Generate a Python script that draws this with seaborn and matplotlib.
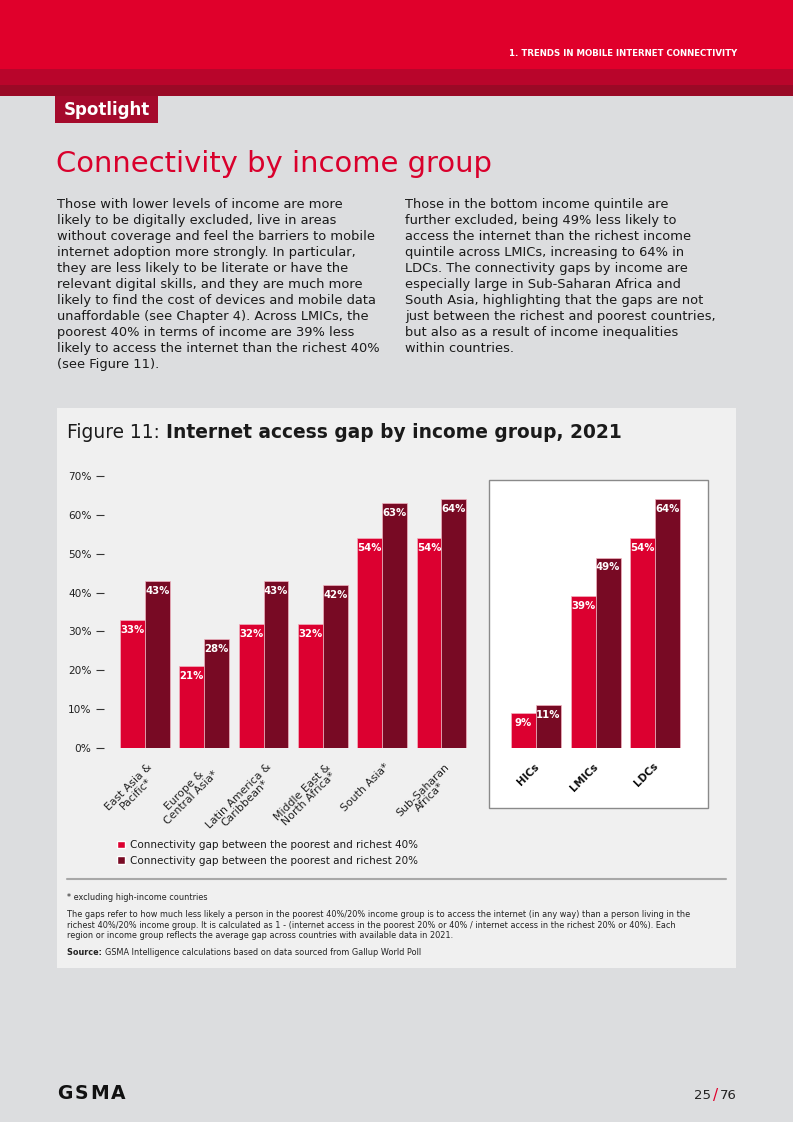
import matplotlib
matplotlib.use("Agg")
import matplotlib.pyplot as plt
import seaborn as sns
import pandas as pd
from matplotlib.patches import Rectangle
from matplotlib.lines import Line2D
from matplotlib.transforms import ScaledTranslation

# ---------------- data ----------------
regions = ["East Asia &\nPacific*", "Europe &\nCentral Asia*", "Latin America &\nCaribbean*",
           "Middle East &\nNorth Africa*", "South Asia*", "Sub-Saharan\nAfrica*"]
gap40_regions = [33, 21, 32, 32, 54, 54]
gap20_regions = [43, 28, 43, 42, 63, 64]
income_groups = ["HICs", "LMICs", "LDCs"]
gap40_groups = [9, 39, 54]
gap20_groups = [11, 49, 64]
series_names = ["Connectivity gap between the poorest and richest 40%",
                "Connectivity gap between the poorest and richest 20%"]
y_ticks = [0, 10, 20, 30, 40, 50, 60, 70]
y_tick_labels = ["0%", "10%", "20%", "30%", "40%", "50%", "60%", "70%"]

left_par = ["Those with lower levels of income are more",
            "likely to be digitally excluded, live in areas",
            "without coverage and feel the barriers to mobile",
            "internet adoption more strongly. In particular,",
            "they are less likely to be literate or have the",
            "relevant digital skills, and they are much more",
            "likely to find the cost of devices and mobile data",
            "unaffordable (see Chapter 4). Across LMICs, the",
            "poorest 40% in terms of income are 39% less",
            "likely to access the internet than the richest 40%",
            "(see Figure 11)."]
right_par = ["Those in the bottom income quintile are",
             "further excluded, being 49% less likely to",
             "access the internet than the richest income",
             "quintile across LMICs, increasing to 64% in",
             "LDCs. The connectivity gaps by income are",
             "especially large in Sub-Saharan Africa and",
             "South Asia, highlighting that the gaps are not",
             "just between the richest and poorest countries,",
             "but also as a result of income inequalities",
             "within countries."]
note_lines = ["The gaps refer to how much less likely a person in the poorest 40%/20% income group is to access the internet (in any way) than a person living in the",
              "richest 40%/20% income group. It is calculated as 1 - (internet access in the poorest 20% or 40% / internet access in the richest 20% or 40%). Each",
              "region or income group reflects the average gap across countries with available data in 2021."]

# ---------------- style ----------------
RED = "#dc0030"
DARK = "#780a24"
PAGE = "#dcdddf"
BOX = "#f0f0f0"
TXT = "#1a1a1a"
sns.set_theme(style="white")
FONT = ["DejaVu Sans"]
plt.rcParams["font.family"] = FONT

W, H = 793, 1122
def fx(x): return x / W
def fy(y): return 1 - y / H

fig = plt.figure(figsize=(W / 100, H / 100), dpi=100)
fig.patch.set_facecolor(PAGE)

def rect(x0, y0, x1, y1, **kw):
    r = Rectangle((fx(x0), fy(y1)), fx(x1) - fx(x0), fy(y0) - fy(y1),
                  transform=fig.transFigure, **kw)
    fig.add_artist(r)
    return r

def run_text(x, y, parts, **common):
    """Place consecutive text pieces on one baseline; parts = [(text, kwargs), ...]"""
    fig.canvas.draw()
    r = fig.canvas.get_renderer()
    cur = x
    for s, kw in parts:
        kk = dict(common); kk.update(kw)
        t = fig.text(fx(cur), fy(y), s, ha="left", va="baseline", **kk)
        bb = t.get_window_extent(r)
        cur = bb.x1
    return cur

# header
rect(0, 0, W, 69, facecolor="#e0002b", edgecolor="none", zorder=0)
rect(0, 69, W, 85, facecolor="#b9052b", edgecolor="none", zorder=0)
rect(0, 85, W, 96, facecolor="#9a0926", edgecolor="none", zorder=0)
fig.text(fx(737), fy(55.5), "1. TRENDS IN MOBILE INTERNET CONNECTIVITY", color="white",
         fontsize=6.2, fontweight="bold", ha="right", va="baseline")
rect(55, 96, 158, 123, facecolor="#a50a2c", edgecolor="none", zorder=0)
fig.text(fx(64), fy(115), "Spotlight", color="white", fontsize=12, fontweight="bold",
         ha="left", va="baseline")

# title
fig.text(fx(56), fy(172), "Connectivity by income group", color="#d9002c",
         fontsize=20.9, ha="left", va="baseline")

# paragraphs
for i, line in enumerate(left_par):
    fig.text(fx(57), fy(208 + i * 16), line, color=TXT, fontsize=9.4,
             ha="left", va="baseline")
for i, line in enumerate(right_par):
    fig.text(fx(405), fy(208 + i * 16), line, color=TXT, fontsize=9.4,
             ha="left", va="baseline")

# figure box
rect(57, 408, 736, 968, facecolor=BOX, edgecolor="none", zorder=0)
run_text(67, 438, [("Figure 11: ", {}), ("Internet access gap by income group, 2021",
                                         {"fontweight": "bold"})],
         color=TXT, fontsize=13.45)

# inset background box
rect(489, 480, 708, 808, facecolor="white", edgecolor="#8a8a8a", linewidth=1, zorder=0)

# ---------------- data frames ----------------
df_regions = pd.DataFrame({
    "category": regions * 2,
    "gap": gap40_regions + gap20_regions,
    "series": [series_names[0]] * len(regions) + [series_names[1]] * len(regions),
})
df_groups = pd.DataFrame({
    "category": income_groups * 2,
    "gap": gap40_groups + gap20_groups,
    "series": [series_names[0]] * len(income_groups) + [series_names[1]] * len(income_groups),
})

def draw_bars(ax, df, order):
    sns.barplot(data=df, x="category", y="gap", hue="series", order=order,
                hue_order=series_names, palette=[RED, DARK], width=0.84,
                saturation=1, edgecolor="#f2b3c0", linewidth=0.5, ax=ax, legend=False)
    for cont in ax.containers:
        vals = [int(round(b.get_height())) for b in cont]
        anns = ax.bar_label(cont, labels=[f"{v}%" for v in vals], padding=-3.5,
                            color="white", fontsize=7.3, fontweight="bold")
        for a in anns:
            a.set_verticalalignment("top")
    ax.set_ylim(0, 70)
    ax.set_xlabel("")
    ax.set_ylabel("")
    ax.set_facecolor("none")
    for s in ax.spines.values():
        s.set_visible(False)
    ax.set_zorder(2)

# main axes
ax = fig.add_axes([fx(104), fy(748), (475 - 104) / W, (748 - 476) / H])
draw_bars(ax, df_regions, regions)
ax.set_xlim(-0.69, 5.565)
ax.set_yticks(y_ticks)
ax.set_yticklabels(y_tick_labels, fontsize=7.6, color="#222222")
ax.tick_params(axis="y", which="both", left=True, direction="out", length=5.5,
               width=0.8, color="#333333", pad=3.5)
ax.tick_params(axis="x", bottom=False, pad=4)
ax.set_xticks(range(len(regions)))
ax.set_xticklabels(regions, fontsize=7.8, color="#222222", rotation=45, ha="right",
                   rotation_mode="anchor", multialignment="center", linespacing=0.95)
for lbl in ax.get_xticklabels():
    lbl.set_transform(lbl.get_transform() + ScaledTranslation(1.5 / 72, 0, fig.dpi_scale_trans))

# inset axes
ax2 = fig.add_axes([fx(489), fy(748), (708 - 489) / W, (748 - 476) / H])
draw_bars(ax2, df_groups, income_groups)
ax2.set_xlim(-0.79, 2.89)
ax2.set_yticks([])
ax2.tick_params(axis="x", bottom=False, pad=3.5)
ax2.set_xticks(range(len(income_groups)))
ax2.set_xticklabels(income_groups, fontsize=7.6, fontweight="bold", color="#111111",
                    rotation=45, ha="right", rotation_mode="anchor")
for lbl in ax2.get_xticklabels():
    lbl.set_transform(lbl.get_transform() + ScaledTranslation(-1.5 / 72, 0, fig.dpi_scale_trans))

# legend
handles = [Rectangle((0, 0), 1, 1, facecolor=RED), Rectangle((0, 0), 1, 1, facecolor=DARK)]
fig.legend(handles, series_names, loc="upper left", bbox_to_anchor=(fx(117), fy(840)),
           frameon=False, fontsize=7.45, handlelength=0.75, handleheight=0.75,
           handletextpad=0.55, labelspacing=0.55, borderaxespad=0, borderpad=0,
           labelcolor=TXT)

# separator line
fig.add_artist(Line2D([fx(67), fx(726)], [fy(879), fy(879)], transform=fig.transFigure,
                      color="#a8a8a8", linewidth=1.5))

# notes
NFS = 5.85
fig.text(fx(67), fy(900), "* excluding high-income countries", color="#222222",
         fontsize=NFS, ha="left", va="baseline")
for i, line in enumerate(note_lines):
    fig.text(fx(67), fy(917 + i * 10.5), line, color="#222222", fontsize=NFS,
             ha="left", va="baseline")
run_text(67, 955, [("Source: ", {"fontweight": "bold"}),
                   ("GSMA Intelligence calculations based on data sourced from Gallup World Poll", {})],
         color="#222222", fontsize=NFS)

# footer logo (slightly letter-spaced)
cur = 57
fig.canvas.draw()
rr = fig.canvas.get_renderer()
for ch in "GSMA":
    t = fig.text(fx(cur), fy(1099), ch, color="#111111", fontsize=13.5, fontweight="bold",
                 ha="left", va="baseline")
    cur = t.get_window_extent(rr).x1 + 2

# page number
p3 = fig.text(fx(737), fy(1099), "76", color="#222222", fontsize=9.5, ha="right", va="baseline")
fig.canvas.draw()
rr = fig.canvas.get_renderer()
b3 = p3.get_window_extent(rr)
p2 = fig.text((b3.x0 - 2) / W, fy(1100), "/", color="#e0002b", fontsize=11, ha="right", va="baseline")
b2 = p2.get_window_extent(rr)
fig.text((b2.x0 - 2) / W, fy(1099), "25", color="#222222", fontsize=9.5, ha="right", va="baseline")

fig.savefig("out.png", dpi=100, facecolor=PAGE)
